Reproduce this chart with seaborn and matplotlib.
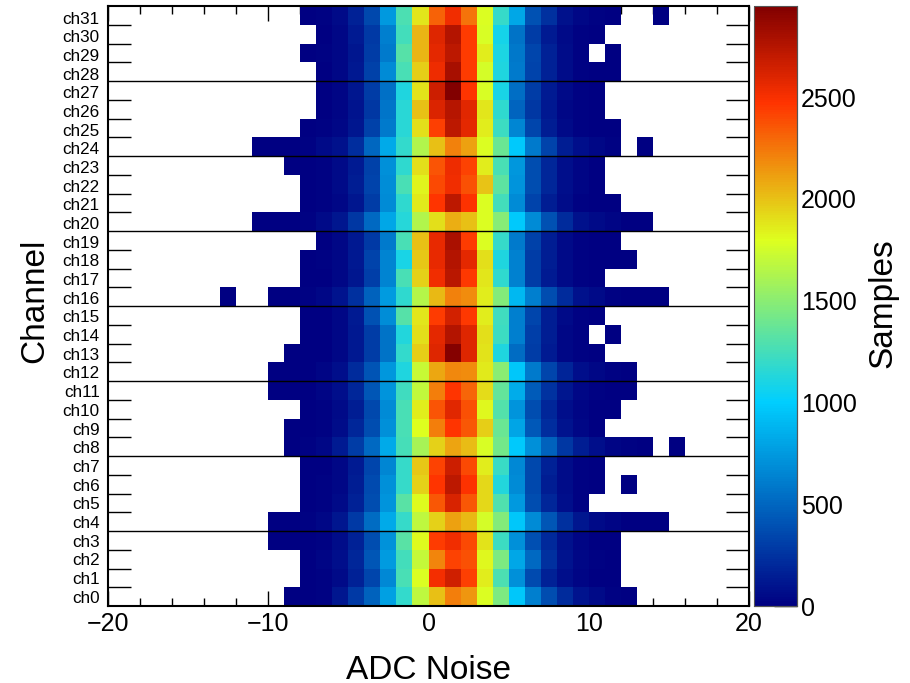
import numpy as np
import pandas as pd
import matplotlib
matplotlib.use("Agg")
import matplotlib.pyplot as plt
import seaborn as sns
from matplotlib.colors import LinearSegmentedColormap

# samples per 1-wide ADC bin, each list starts at the bin in first_bin
ch0 = [1, 5, 15, 110, 280, 480, 780, 1180, 1680, 2010, 2230, 2140, 1790, 1450, 960, 620, 380, 210, 100, 50, 20, 5]
ch1 = [3, 12, 50, 170, 340, 660, 1270, 1790, 2510, 2650, 2430, 1850, 1280, 700, 360, 170, 70, 25, 10, 2]
ch2 = [7, 25, 70, 190, 420, 760, 1240, 1700, 2200, 2420, 2380, 1820, 1450, 820, 510, 240, 100, 40, 12, 3]
ch3 = [1, 2, 7, 20, 60, 170, 370, 710, 1320, 1810, 2440, 2530, 2400, 1890, 1220, 700, 390, 200, 90, 30, 10, 3]
ch4 = [1, 4, 15, 40, 110, 280, 530, 830, 1200, 1680, 1950, 2110, 2030, 1760, 1470, 960, 680, 420, 240, 110, 50, 25, 10, 5, 1]
ch5 = [3, 15, 55, 170, 380, 720, 1320, 1810, 2350, 2620, 2350, 1920, 1290, 740, 370, 190, 70, 20]
ch6 = [2, 12, 45, 140, 360, 700, 1200, 1950, 2470, 2720, 2480, 1920, 1130, 680, 350, 150, 60, 20, 6, 0, 1]
ch7 = [2, 10, 40, 130, 340, 650, 1200, 1980, 2420, 2660, 2400, 1860, 1210, 670, 350, 170, 60, 20, 5]
ch8 = [4, 12, 40, 130, 300, 510, 830, 1250, 1600, 1950, 2100, 2020, 1770, 1410, 980, 700, 480, 270, 140, 70, 30, 15, 5, 0, 1]
ch9 = [1, 4, 15, 60, 190, 380, 700, 1270, 1800, 2230, 2470, 2350, 1960, 1380, 800, 430, 220, 100, 35, 10]
ch10 = [4, 15, 50, 150, 350, 680, 1270, 1860, 2360, 2580, 2370, 1820, 1300, 720, 370, 190, 70, 25, 8, 2]
ch11 = [1, 3, 8, 25, 70, 190, 420, 720, 1230, 1690, 2230, 2470, 2300, 1910, 1360, 840, 450, 250, 110, 45, 20, 7, 2]
ch12 = [1, 3, 10, 30, 80, 210, 410, 730, 1110, 1720, 2090, 2190, 2180, 1870, 1500, 960, 590, 340, 180, 70, 35, 15, 5]
ch13 = [1, 3, 10, 40, 120, 300, 560, 1190, 1960, 2600, 2930, 2590, 1890, 1110, 530, 290, 130, 45, 15, 4]
ch14 = [2, 8, 35, 120, 300, 560, 1130, 1900, 2570, 2760, 2600, 1900, 1220, 620, 310, 140, 45, 15, 0, 1]
ch15 = [2, 10, 40, 130, 400, 690, 1310, 1880, 2450, 2640, 2460, 1860, 1230, 620, 340, 150, 50, 18, 5]
ch16 = [1, 0, 0, 2, 5, 15, 40, 100, 240, 480, 760, 1170, 1650, 2030, 2210, 2180, 1860, 1470, 900, 620, 370, 210, 90, 50, 15, 8, 3, 1]
ch17 = [2, 10, 40, 110, 310, 640, 1270, 1950, 2520, 2730, 2460, 1880, 1170, 630, 300, 130, 50, 18, 5]
ch18 = [2, 12, 40, 120, 330, 640, 1090, 1980, 2560, 2760, 2570, 1900, 1110, 630, 300, 140, 50, 20, 8, 3, 1]
ch19 = [8, 35, 120, 280, 600, 1260, 2000, 2560, 2790, 2450, 1790, 1200, 600, 320, 150, 55, 20, 7, 2]
ch20 = [1, 3, 8, 20, 50, 110, 270, 520, 810, 1140, 1640, 1900, 2060, 2000, 1780, 1480, 980, 680, 400, 210, 90, 50, 25, 10, 3]
ch21 = [2, 12, 40, 110, 300, 680, 1170, 1870, 2470, 2720, 2480, 1780, 1240, 680, 330, 150, 60, 20, 8, 2]
ch22 = [3, 15, 50, 140, 330, 690, 1270, 1830, 2400, 2530, 2370, 1990, 1340, 720, 370, 190, 70, 25, 6]
ch23 = [1, 4, 15, 50, 130, 320, 700, 1170, 1900, 2360, 2540, 2420, 1860, 1260, 730, 370, 190, 70, 25, 6]
ch24 = [1, 2, 5, 15, 50, 90, 230, 500, 830, 1180, 1630, 2000, 2210, 2110, 1790, 1380, 980, 590, 330, 150, 70, 40, 12, 0, 1]
ch25 = [2, 12, 40, 110, 320, 600, 1150, 1900, 2430, 2720, 2570, 1860, 1220, 650, 340, 140, 55, 20, 7, 2]
ch26 = [8, 30, 100, 270, 570, 1150, 2010, 2610, 2750, 2580, 1880, 1170, 490, 270, 120, 40, 15, 4]
ch27 = [8, 30, 110, 300, 550, 1110, 1890, 2660, 2940, 2470, 1770, 1090, 540, 300, 130, 50, 18, 5]
ch28 = [10, 40, 120, 320, 680, 1270, 1960, 2540, 2800, 2450, 1760, 1120, 590, 330, 170, 60, 22, 8, 2]
ch29 = [3, 18, 45, 110, 290, 600, 1310, 2040, 2570, 2720, 2440, 1850, 1100, 580, 340, 170, 60, 20, 0, 3]
ch30 = [8, 35, 130, 280, 620, 1240, 2040, 2600, 2760, 2450, 1770, 1080, 560, 300, 130, 50, 20, 6]
ch31 = [3, 12, 50, 170, 350, 750, 1280, 1880, 2320, 2530, 2260, 1780, 1200, 810, 400, 240, 90, 40, 15, 5, 0, 0, 1]

first_bin = [-9, -8, -8, -10, -10, -8, -8, -8, -9, -9, -8, -10, -10, -9, -8, -8,
             -13, -8, -8, -7, -11, -8, -8, -9, -11, -8, -7, -7, -7, -8, -7, -8]
channels = [ch0, ch1, ch2, ch3, ch4, ch5, ch6, ch7, ch8, ch9, ch10, ch11, ch12, ch13, ch14, ch15,
            ch16, ch17, ch18, ch19, ch20, ch21, ch22, ch23, ch24, ch25, ch26, ch27, ch28, ch29, ch30, ch31]
channel_names = [f"ch{i}" for i in range(32)]
x_range = [-20, 20]
cbar_ticks = [0, 500, 1000, 1500, 2000, 2500]
z_max = 2947

# 2d histogram, rows ch0..ch31, columns bins -20..19
bins = np.arange(x_range[0], x_range[1])
hist = np.zeros((len(channels), len(bins)))
for i, (start, row) in enumerate(zip(first_bin, channels)):
    hist[i, start - x_range[0]:start - x_range[0] + len(row)] = row
df = pd.DataFrame(hist, index=channel_names, columns=bins)

# ROOT rainbow palette
stops = [0.00, 0.34, 0.61, 0.84, 1.00]
red = [0.00, 0.00, 0.87, 1.00, 0.51]
green = [0.00, 0.81, 1.00, 0.20, 0.00]
blue = [0.51, 1.00, 0.12, 0.00, 0.00]
root_rainbow = LinearSegmentedColormap.from_list(
    "root_rainbow", [(s, (r, g, b)) for s, r, g, b in zip(stops, red, green, blue)], N=255)

sns.set_style("white")
plt.rcParams['font.family'] = ['Liberation Sans', 'DejaVu Sans']
plt.rcParams['text.color'] = "black"
plt.rcParams['axes.labelcolor'] = "black"
plt.rcParams['xtick.labelcolor'] = "black"
plt.rcParams['ytick.labelcolor'] = "black"

W, H = 910, 683
fig = plt.figure(figsize=(W / 100, H / 100), dpi=100)
ax = fig.add_axes([108 / W, 1 - 606 / H, 641 / W, 600 / H])
cax = fig.add_axes([754 / W, 1 - 606 / H, 43 / W, 600 / H])

sns.heatmap(df, mask=df == 0, cmap=root_rainbow, vmin=0, vmax=z_max, ax=ax, cbar_ax=cax,
            xticklabels=False, yticklabels=False, linewidths=0)
ax.set_ylim(0, len(channels))
ax.set_xlim(0, len(bins))

# x ticks, top and bottom
ax.set_xticks([v - x_range[0] for v in range(-20, 21, 10)])
ax.set_xticklabels(["\u221220", "\u221210", "0", "10", "20"], fontsize=18)
ax.set_xticks([v - x_range[0] for v in range(-20, 21, 2) if v % 10 != 0], minor=True)
ax.tick_params(axis="x", which="major", direction="in", length=11, width=1, color="black",
               top=True, bottom=True, pad=4.5)
ax.tick_params(axis="x", which="minor", direction="in", length=5.5, width=1, color="black",
               top=True, bottom=True)

# labels are spaced a little tighter than the rows in the original, ticks on the row edges
ax.set_yticks(0.5 + np.arange(len(channels)) * 0.9962)
ax.set_yticklabels(channel_names, fontsize=12.3, rotation=0)
ax.set_yticks([i for i in range(1, len(channels)) if i % 4 != 0], minor=True)
ax.tick_params(axis="y", which="major", length=0, pad=6)
ax.tick_params(axis="y", which="minor", direction="in", length=16.5, width=1, color="black",
               left=True, right=True)
for i in range(4, len(channels), 4):
    ax.axhline(i, color="black", lw=1)

for spine in ax.spines.values():
    spine.set_visible(True)
    spine.set_linewidth(1.5)
    spine.set_color("black")

ax.set_xlabel("ADC Noise", fontsize=24)
ax.set_ylabel("Channel", fontsize=24)
ax.xaxis.set_label_coords(0.5, -0.081)
ax.yaxis.set_label_coords(-0.09, 0.508)

cax.set_yticks(cbar_ticks)
cax.set_yticklabels([str(t) for t in cbar_ticks], fontsize=18)
cax.tick_params(axis="y", direction="in", length=16.5, width=1, color="black",
                right=True, left=False, pad=3)
cax.set_ylabel("Samples", fontsize=24)
cax.yaxis.set_label_position("right")
cax.yaxis.set_label_coords(2.65, 0.505)
for spine in cax.spines.values():
    spine.set_visible(True)
    spine.set_linewidth(0.8)
    spine.set_color("#555555")
cax.spines["left"].set_visible(False)
cax.spines["top"].set_visible(False)

fig.savefig("out.png", dpi=100)
